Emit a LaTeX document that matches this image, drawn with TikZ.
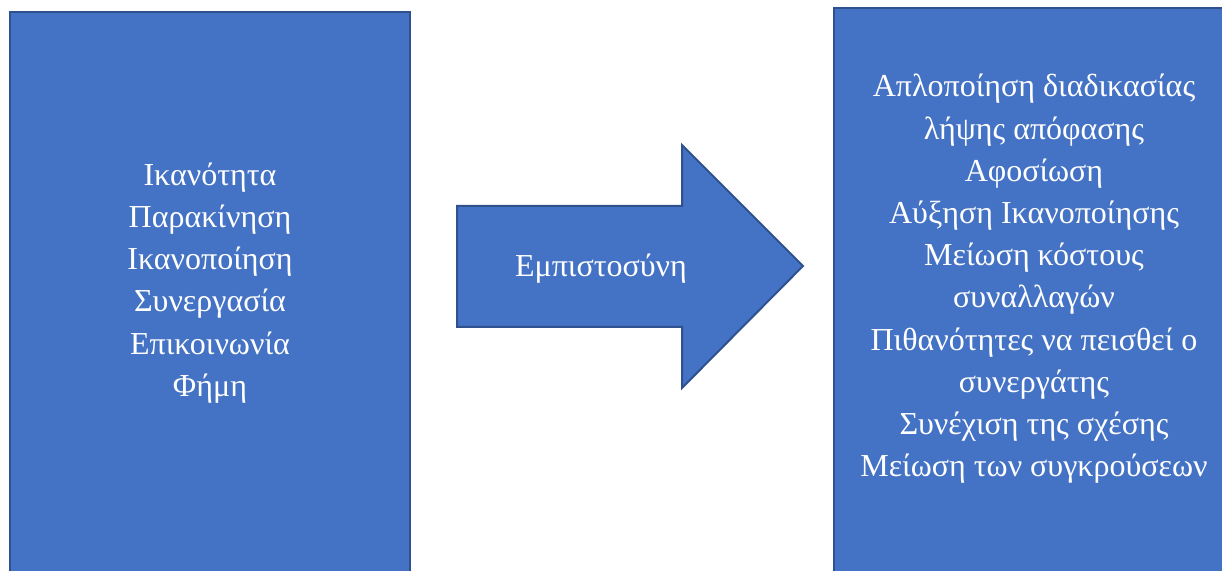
\documentclass[tikz,border=0pt]{standalone}
\usepackage{fontspec}
\setmainfont{Liberation Serif}
\tikzset{
  blk/.style={fill=boxblue, draw=boxedge, line width=1pt},
  txt/.style={text=white, align=center, font=\fontsize{16}{21.1}\selectfont},
}
\definecolor{boxblue}{HTML}{4472C4}
\definecolor{boxedge}{HTML}{2F528F}
\begin{document}
\begin{tikzpicture}[x=0.5pt, y=-0.5pt]
\useasboundingbox (0,0) rectangle (1222,571);
\fill[white] (0,0) rectangle (1222,571);
\begin{scope}
\clip (0,0) rectangle (1222,571);
\draw[blk] (10,12) rectangle (410,600);
\draw[blk] (834,8) rectangle (1240,600);
\draw[blk] (457,206) -- (682,206) -- (682,145) -- (803,266) -- (682,388) -- (682,327) -- (457,327) -- cycle;
\end{scope}
\node[txt] (left) at (210,283) {Ικανότητα\\Παρακίνηση\\Ικανοποίηση\\Συνεργασία\\Επικοινωνία\\Φήμη};
\node[txt] (mid) at (601,269) {Εμπιστοσύνη};
\node[txt] (right) at (1034,279) {Απλοποίηση διαδικασίας\\λήψης απόφασης\\Αφοσίωση\\Αύξηση Ικανοποίησης\\Μείωση κόστους\\συναλλαγών\\Πιθανότητες να πεισθεί ο\\συνεργάτης\\Συνέχιση της σχέσης\\Μείωση των συγκρούσεων};
\end{tikzpicture}
\end{document}
